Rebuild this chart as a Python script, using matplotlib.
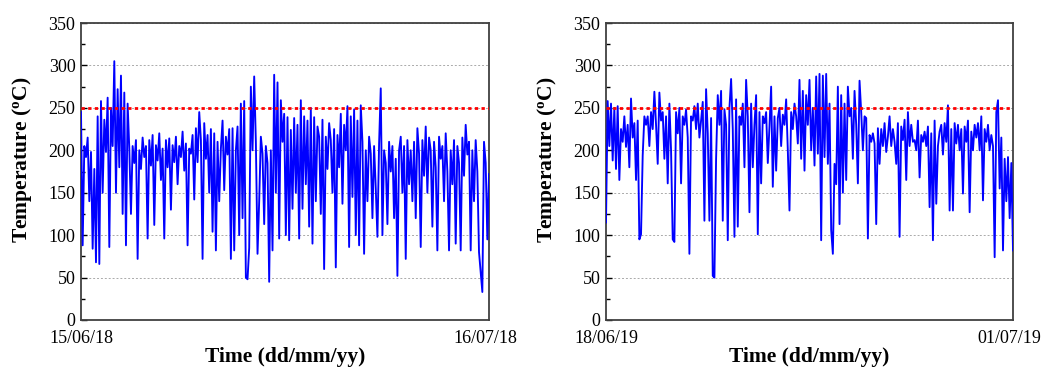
import matplotlib
matplotlib.use("Agg")
import matplotlib.pyplot as plt
import matplotlib.transforms as mtransforms
import numpy as np
from matplotlib.ticker import MultipleLocator

plt.rcParams['font.family'] = ['Liberation Serif', 'DejaVu Serif']
plt.rcParams['mathtext.fontset'] = 'custom'
plt.rcParams['mathtext.rm'] = 'Liberation Serif'
plt.rcParams['mathtext.bf'] = 'Liberation Serif:bold'

# ---- data ----
left_dates = ["15/06/18", "16/07/18"]
right_dates = ["18/06/19", "01/07/19"]
threshold = 250

temp_2018 = [
    245, 88, 205, 192, 215, 140,
    198, 84, 178, 68, 240, 66,
    258, 150, 236, 198, 262, 86,
    250, 205, 305, 150, 272, 180,
    288, 125, 268, 88, 255, 202,
    125, 205, 185, 212, 72, 200,
    178, 215, 192, 205, 96, 212,
    182, 218, 112, 206, 188, 220,
    165, 202, 96, 212, 180, 214,
    130, 206, 186, 216, 160, 205,
    192, 222, 176, 208, 88, 202,
    196, 218, 142, 226, 186, 245,
    212, 72, 232, 190, 218, 150,
    225, 104, 220, 82, 210, 140,
    202, 235, 153, 216, 195, 225,
    72, 226, 82, 200, 228, 100,
    255, 120, 258, 50, 48, 85,
    275, 200, 287, 210, 78, 140,
    216, 196, 113, 205, 185, 45,
    200, 82, 289, 150, 280, 96,
    259, 210, 243, 100, 239, 94,
    224, 131, 238, 150, 230, 96,
    259, 131, 240, 160, 235, 110,
    250, 90, 239, 140, 228, 216,
    125, 236, 60, 216, 178, 232,
    212, 150, 225, 62, 218, 180,
    243, 137, 230, 200, 252, 86,
    240, 145, 248, 100, 235, 88,
    253, 210, 78, 200, 140, 216,
    196, 120, 205, 155, 98, 208,
    273, 100, 200, 185, 113, 210,
    175, 205, 120, 190, 52, 200,
    216, 150, 205, 72, 212, 160,
    200, 140, 210, 120, 226, 196,
    86, 212, 170, 228, 150, 215,
    200, 110, 210, 180, 82, 216,
    190, 205, 140, 220, 175, 82,
    200, 160, 212, 90, 205, 185,
    82, 215, 170, 230, 195, 210,
    82, 200, 140, 212, 175, 80,
    57, 33, 210, 185, 95, 172,
]

temp_2019 = [
    115, 258, 205, 255, 188, 250,
    178, 252, 165, 225, 210, 240,
    204, 230, 180, 261, 215, 232,
    165, 235, 95, 101, 194, 240,
    230, 240, 205, 245, 225, 269,
    230, 184, 268, 235, 245, 190,
    240, 161, 255, 200, 95, 92,
    245, 220, 250, 161, 240, 230,
    248, 215, 78, 240, 235, 252,
    225, 255, 215, 235, 257, 117,
    272, 220, 117, 238, 52, 50,
    190, 265, 230, 270, 117, 248,
    230, 94, 250, 284, 225, 98,
    260, 110, 240, 230, 255, 180,
    283, 240, 127, 255, 180, 230,
    265, 101, 245, 161, 240, 232,
    245, 185, 228, 275, 157, 240,
    176, 238, 250, 205, 242, 230,
    260, 200, 129, 245, 225, 255,
    240, 208, 283, 190, 270, 176,
    265, 230, 283, 200, 250, 182,
    287, 196, 290, 94, 288, 192,
    290, 184, 255, 106, 78, 184,
    160, 275, 113, 265, 150, 255,
    165, 275, 240, 250, 190, 270,
    230, 161, 282, 245, 200, 240,
    238, 96, 218, 210, 220, 208,
    113, 226, 184, 225, 205, 232,
    198, 216, 240, 205, 225, 210,
    184, 232, 98, 228, 212, 236,
    165, 245, 205, 230, 210, 212,
    200, 235, 168, 218, 210, 222,
    205, 228, 133, 220, 94, 235,
    137, 205, 222, 230, 195, 232,
    210, 253, 129, 225, 129, 232,
    208, 230, 200, 225, 149, 228,
    210, 235, 127, 222, 200, 230,
    215, 232, 200, 240, 141, 225,
    210, 230, 200, 218, 205, 74,
    245, 259, 155, 215, 82, 190,
    140, 192, 120, 185, 82,
]

W, H = 1041, 370
fig = plt.figure(figsize=(W / 100, H / 100), dpi=100)

panels = [
    (81, 489, temp_2018, left_dates),
    (606, 1013, temp_2019, right_dates),
]

for x0, x1, series, dates in panels:
    ax = fig.add_axes([x0 / W, 1 - 320 / H, (x1 - x0) / W, (320 - 23) / H])
    idx = np.arange(len(series))
    ax.plot(idx, series, color='#0000FF', lw=1.35, zorder=3)
    ax.axhline(threshold, color='#FF0000', lw=2.0, ls=(0, (1.2, 1.2)), zorder=4)
    ax.set_xlim(0, len(series) - 1)
    ax.set_ylim(0, 350)
    ax.yaxis.set_major_locator(MultipleLocator(50))
    ax.yaxis.set_minor_locator(MultipleLocator(25))
    ax.grid(axis='y', which='major', color='#aaaaaa', ls=(0, (2, 2)), lw=0.7, zorder=1)
    ax.set_xticks([0, len(series) - 1])
    ax.set_xticklabels(dates)
    ax.tick_params(axis='x', length=0, labelsize=13, pad=7)
    ax.tick_params(axis='y', which='major', direction='in', length=4, width=1.0,
                   labelsize=13, pad=4)
    ax.tick_params(axis='y', which='minor', direction='in', length=3, width=1.0)
    # end labels sit slightly inside the axis end, like the reference
    xlabels = ax.get_xticklabels()
    off = mtransforms.ScaledTranslation(-4 / 100, 0, fig.dpi_scale_trans)
    xlabels[-1].set_transform(xlabels[-1].get_transform() + off)
    for s in ax.spines.values():
        s.set_color('#404040')
        s.set_linewidth(1.3)
    ax.set_ylabel(r'Temperature ($\mathbf{^{o}}$C)', fontsize=15.5, fontweight='bold')
    ax.yaxis.set_label_coords((x0 - 47 - x0 + 0) / (x1 - x0) - 0.0, 0.54)
    ax.set_xlabel('Time (dd/mm/yy)', fontsize=15.5, fontweight='bold', labelpad=0)

fig.savefig('out.png', dpi=100)
